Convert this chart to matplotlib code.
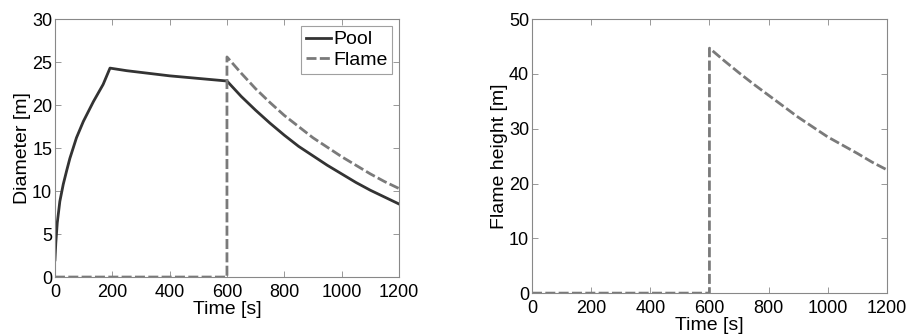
import matplotlib
matplotlib.use("Agg")
import matplotlib.pyplot as plt

# ---- data ----
pool_t = [0, 3, 8, 17, 29, 41, 52, 75, 99, 134, 168, 192, 250, 300, 400, 500, 600,
          650, 700, 750, 800, 850, 900, 950, 1000, 1050, 1100, 1150, 1200]
pool_d = [2.0, 4.0, 6.3, 8.8, 10.8, 12.4, 13.8, 16.2, 18.1, 20.4, 22.4, 24.3, 24.0, 23.8, 23.4, 23.1, 22.8,
          21.0, 19.4, 17.9, 16.5, 15.2, 14.1, 13.0, 12.0, 11.0, 10.1, 9.3, 8.5]

flame_t = [0, 600, 600, 650, 700, 750, 800, 850, 900, 950, 1000, 1050, 1100, 1150, 1200]
flame_d = [0.0, 0.0, 25.6, 23.7, 21.9, 20.3, 18.8, 17.5, 16.2, 15.1, 14.0, 13.0, 12.0, 11.1, 10.3]
flame_h = [0.0, 0.0, 44.7, 42.4, 40.2, 38.1, 36.1, 34.1, 32.1, 30.3, 28.5, 27.0, 25.5, 23.9, 22.5]

xticks = [0, 200, 400, 600, 800, 1000, 1200]
yticks_left = [0, 5, 10, 15, 20, 25, 30]
yticks_right = [0, 10, 20, 30, 40, 50]

plt.rcParams['font.family'] = ['Liberation Sans', 'DejaVu Sans']
fs = 13
lfs = 14

fig = plt.figure(figsize=(9.1, 3.35), dpi=100)
ax1 = fig.add_axes([0.0604, 0.173, 0.378, 0.770])
ax2 = fig.add_axes([0.5846, 0.125, 0.390, 0.818])

pool_c = '#333333'
flame_c = '#7a7a7a'

ax1.plot(pool_t, pool_d, color=pool_c, lw=2.0, label='Pool', solid_joinstyle='round')
ax1.plot(flame_t, flame_d, color=flame_c, lw=2.0, ls=(0, (3.6, 1.2)), label='Flame')
ax2.plot(flame_t, flame_h, color=flame_c, lw=2.0, ls=(0, (3.6, 1.2)))

for ax, yt in ((ax1, yticks_left), (ax2, yticks_right)):
    ax.set_xlim(0, 1200)
    ax.set_ylim(yt[0], yt[-1])
    ax.set_xticks(xticks)
    ax.set_yticks(yt)
    ax.tick_params(direction='in', length=4, width=0.6, color='#888888',
                   top=True, right=True, labelsize=fs, pad=2)
    ax.tick_params(axis='x', pad=5)
    for s in ax.spines.values():
        s.set_color('#888888')
        s.set_linewidth(0.8)
    ax.set_xlabel('Time [s]', fontsize=lfs, labelpad=0)

ax1.set_ylabel('Diameter [m]', fontsize=lfs, labelpad=1)
ax2.set_ylabel('Flame height [m]', fontsize=lfs, labelpad=1)

leg = ax1.legend(loc='upper right', fontsize=fs + 1, frameon=True, fancybox=False,
                 handlelength=1.3, handletextpad=0.1, borderpad=0.25,
                 labelspacing=0.15, borderaxespad=0.35)
leg.get_frame().set_edgecolor('#888888')
leg.get_frame().set_linewidth(0.8)

fig.savefig('out.png', dpi=100)
